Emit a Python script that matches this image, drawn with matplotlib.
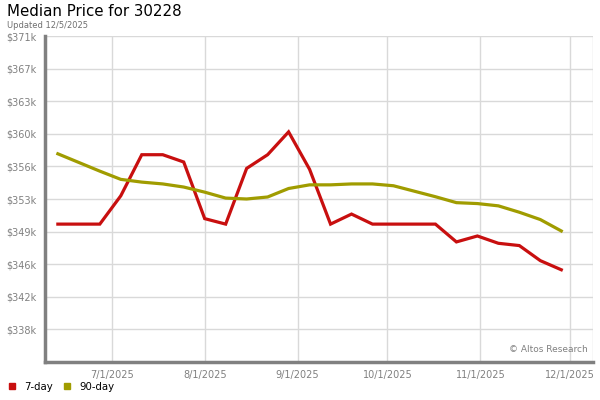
import numpy as np
import pandas as pd
import matplotlib
matplotlib.use('Agg')
import matplotlib.pyplot as plt
from matplotlib.lines import Line2D

# weekly data, thousands of dollars
dates = pd.date_range('2025-06-13', periods=25, freq='7D')
day7 = [350.0, 350.0, 350.0, 353.1, 357.6, 357.6, 356.8, 350.6, 350.0, 356.1,
        357.6, 360.1, 356.0, 350.0, 351.1, 350.0, 350.0, 350.0, 350.0, 348.05,
        348.7, 347.9, 347.65, 346.0, 345.0]
day90 = [357.7, 356.75, 355.8, 354.9, 354.6, 354.4, 354.06, 353.5, 352.85, 352.75,
         352.97, 353.9, 354.3, 354.3, 354.4, 354.4, 354.2, 353.6, 353.0, 352.35,
         352.25, 352.0, 351.3, 350.5, 349.25]
names = ['7-day', '90-day']
colors = ['#c80f0f', '#a09c00']
xtick_dates = pd.to_datetime(['2025-07-01', '2025-08-01', '2025-09-01',
                              '2025-10-01', '2025-11-01', '2025-12-01'])
ymax = 370.6
ystep = 3.57

fig = plt.figure(figsize=(6, 4), dpi=100)
ax = fig.add_axes([45/600, 1-362/400, (593-45)/600, (362-36)/400])

for vals, c, n in zip([day7, day90], colors, names):
    ax.plot(dates, vals, color=c, lw=2.3, label=n, solid_joinstyle='miter', zorder=3)

yt = ymax - ystep*np.arange(11)
ax.set_ylim(yt[-1], ymax)
ax.set_yticks(yt[:-1])
ax.set_yticklabels(['$%dk' % round(v) for v in yt[:-1]])
ax.set_xlim(pd.Timestamp('2025-06-08 17:00'), pd.Timestamp('2025-12-08 14:00'))
ax.set_xticks(xtick_dates)
ax.set_xticklabels(['%d/%d/%d' % (d.month, d.day, d.year) for d in xtick_dates])
ax.grid(True, color='#d9d9d9', lw=1)
ax.set_axisbelow(True)
ax.tick_params(length=0, labelsize=7, colors='#808080', pad=6)
for s in ['top', 'right']:
    ax.spines[s].set_visible(False)
ax.axvline(ax.get_xlim()[1], color='#d9d9d9', lw=1)
for s in ['left', 'bottom']:
    ax.spines[s].set_color('#808080')
    ax.spines[s].set_linewidth(2.5)

ax.text(0.99, 0.025, '\u00a9 Altos Research', transform=ax.transAxes,
        ha='right', va='bottom', fontsize=6.5, color='#808080')

fig.text(7/600, 1-12/400, 'Median Price for 30228', fontsize=10.8, va='center', ha='left')
fig.text(7/600, 1-25/400, 'Updated 12/5/2025', fontsize=6, va='center', ha='left', color='#707070')

handles = [Line2D([], [], marker='s', ls='', color=c, markersize=4) for c in colors]
fig.legend(handles, names, loc='lower left', bbox_to_anchor=(0.002, 0.003), ncol=2,
           frameon=False, fontsize=7.3, handlelength=0.7, handletextpad=0.9,
           columnspacing=1.0, borderaxespad=0.3)

fig.savefig('out.png', dpi=100)
